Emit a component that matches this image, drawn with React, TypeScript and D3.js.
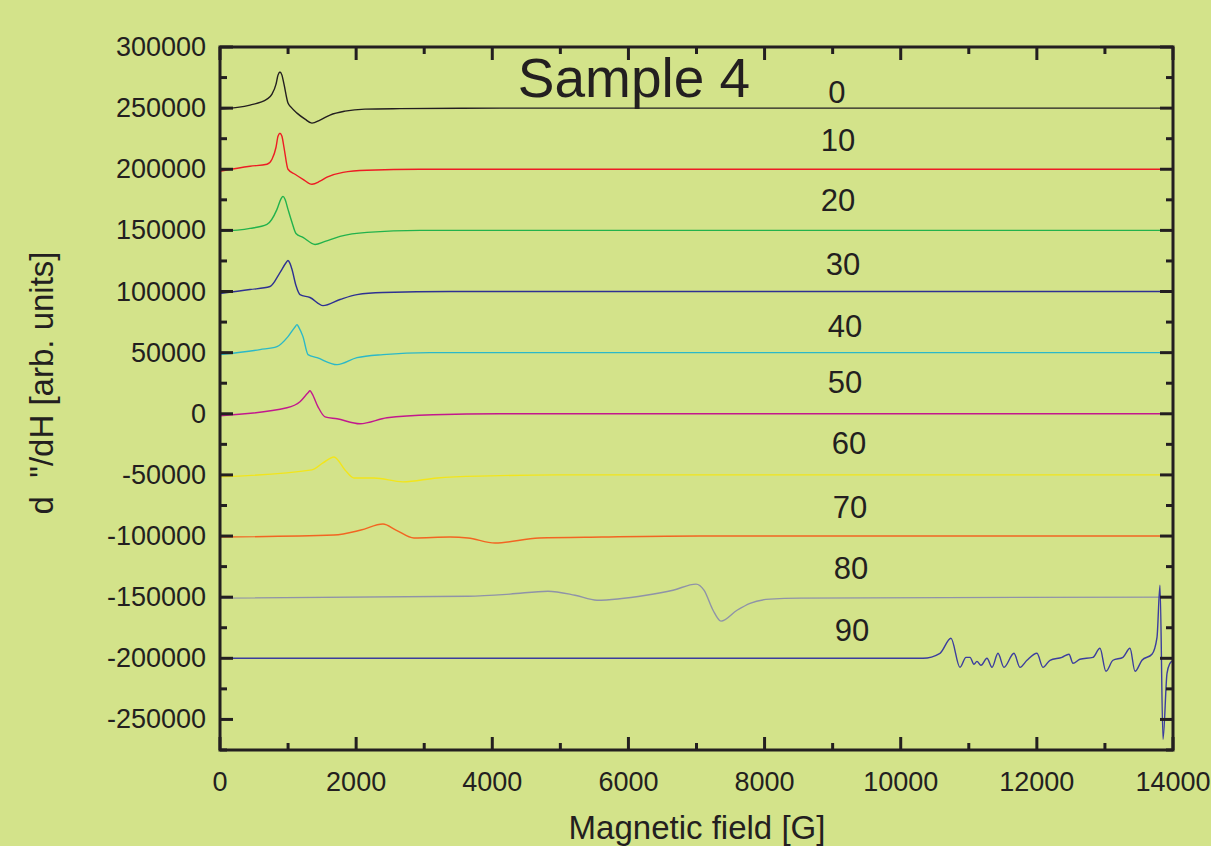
import React from "react";
import * as d3 from "d3";

type Pt = [number, number];

const series0: Pt[] = [[0,249200],[441,252500],[690,257400],[764,261500],[823,269600],[852,277000],[881,279500],[910,277000],[940,269600],[999,254100],[1043,250800],[1131,245900],[1249,241000],[1351,237700],[1469,240200],[1616,244300],[1836,247500],[2130,249200],[2644,249600],[4113,250000],[14000,250000]];
const series10: Pt[] = [[0,198400],[441,202500],[690,204100],[764,208200],[823,218000],[852,227000],[881,229500],[910,227000],[940,218000],[999,200000],[1102,195900],[1219,191800],[1351,187700],[1469,190200],[1572,193500],[1807,197500],[2159,199200],[2938,200000],[14000,200000]];
const series20: Pt[] = [[0,149200],[441,151600],[690,154900],[837,167200],[896,175800],[925,177800],[955,175500],[999,167200],[1058,156500],[1116,147500],[1219,144300],[1396,138500],[1543,141000],[1763,145100],[2159,148400],[2938,150000],[14000,150000]];
const series30: Pt[] = [[0,98400],[441,101600],[735,104100],[881,115500],[970,123500],[999,125400],[1028,123000],[1058,118000],[1116,104900],[1175,97500],[1322,95100],[1513,88500],[1763,93500],[2013,97500],[2394,99200],[3379,100000],[14000,100000]];
const series40: Pt[] = [[0,48400],[588,52500],[837,54900],[999,63100],[1102,71000],[1131,72900],[1160,70500],[1219,63100],[1293,48400],[1425,45900],[1719,40200],[2013,45900],[2394,48400],[3085,50000],[14000,50000]];
const series50: Pt[] = [[0,-1600],[984,4900],[1175,9800],[1293,17200],[1322,18800],[1352,16500],[1440,5700],[1543,-2500],[1719,-4100],[2057,-8200],[2453,-3300],[3129,-800],[4113,0],[14000,0]];
const series60: Pt[] = [[0,-51600],[1351,-45900],[1513,-40200],[1675,-35300],[1836,-45900],[1968,-52500],[2262,-52500],[2688,-55700],[3188,-52500],[3966,-50800],[4950,-50000],[14000,-50000]];
const series70: Pt[] = [[0,-100800],[1675,-99200],[2071,-95100],[2394,-90200],[2585,-95100],[2850,-101600],[3379,-100800],[3643,-101600],[4040,-105700],[4686,-101600],[5612,-100800],[7051,-100000],[14000,-100000]];
const series80: Pt[] = [[0,-150800],[3643,-149200],[4260,-147500],[4818,-145100],[5215,-148400],[5538,-152500],[6258,-148400],[6655,-144300],[6993,-139300],[7110,-144300],[7243,-160700],[7360,-169600],[7595,-160700],[7786,-155000],[8080,-151600],[8520,-150800],[14000,-150000]];
const series90: Pt[] = [[0,-200000],[10327,-200000],[10577,-195900],[10738,-183600],[10871,-207400],[10959,-199200],[11018,-199200],[11076,-204900],[11120,-202500],[11179,-205700],[11267,-200000],[11341,-207400],[11429,-195900],[11517,-207400],[11664,-195900],[11752,-207400],[11855,-201600],[12002,-195900],[12090,-207400],[12193,-201600],[12369,-199200],[12472,-196700],[12531,-204100],[12633,-200800],[12824,-199200],[12927,-191800],[13015,-210600],[13118,-201600],[13265,-199200],[13368,-191800],[13442,-210600],[13544,-201600],[13691,-196700],[13765,-182800],[13809,-140300],[13853,-266300],[13912,-212300],[13955,-204100],[14000,-201600]];

const seriesData: Pt[][] = [series0, series10, series20, series30, series40, series50, series60, series70, series80, series90];
const seriesNames = ["0", "10", "20", "30", "40", "50", "60", "70", "80", "90"];
const seriesColors = ["#231f20", "#ed1c24", "#22b24c", "#2e3192", "#2bb8c8", "#c2188e", "#f2e51b", "#f26522", "#8f93a8", "#3b3d9e"];
// label anchors in data units (field, value)
const labelField = [9064, 9078, 9078, 9152, 9181, 9181, 9240, 9255, 9270, 9284];
const labelValue = [262400, 223900, 174800, 122400, 71700, 25800, -24100, -76400, -126400, -177100];

const xTicks = [0, 2000, 4000, 6000, 8000, 10000, 12000, 14000];
const xMinorTicks = [1000, 3000, 5000, 7000, 9000, 11000, 13000];
const yTicks = [300000, 250000, 200000, 150000, 100000, 50000, 0, -50000, -100000, -150000, -200000, -250000];
const yMinorTicks = [275000, 225000, 175000, 125000, 75000, 25000, -25000, -75000, -125000, -175000, -225000, -275000];

const W = 1211, H = 846;
const L = 220, R = 1173, T = 47, B = 750;

export default function App() {
  const x = d3.scaleLinear().domain([0, 14000]).range([L, R]);
  const y = d3.scaleLinear().domain([-275000, 300000]).range([B, T]);
  const line = d3.line<Pt>().x(d => x(d[0])).y(d => y(d[1])).curve(d3.curveMonotoneX);
  const axisColor = "#231f20";
  const font = "'Liberation Sans', Arial, sans-serif";
  return (
    <svg width={W} height={H} style={{ position: "absolute", left: 0, top: 0 }} fontFamily={font}>
      <rect x={0} y={0} width={W} height={H} fill="#d3e38a" />
      <g>
        {seriesData.map((s, i) => (
          <path key={i} d={line(s) || ""} fill="none" stroke={seriesColors[i]} strokeWidth={1.4} />
        ))}
      </g>
      {/* ticks */}
      <g stroke={axisColor} strokeWidth={3}>
        {xTicks.map(t => (
          <g key={"xt" + t}>
            <line x1={x(t)} x2={x(t)} y1={B} y2={B - 13} />
            <line x1={x(t)} x2={x(t)} y1={T} y2={T + 13} />
          </g>
        ))}
        {xMinorTicks.map(t => (
          <g key={"xm" + t}>
            <line x1={x(t)} x2={x(t)} y1={B} y2={B - 7} />
            <line x1={x(t)} x2={x(t)} y1={T} y2={T + 7} />
          </g>
        ))}
        {yTicks.map(t => (
          <g key={"yt" + t}>
            <line x1={L} x2={L + 13} y1={y(t)} y2={y(t)} />
            <line x1={R} x2={R - 13} y1={y(t)} y2={y(t)} />
          </g>
        ))}
        {yMinorTicks.map(t => (
          <g key={"ym" + t}>
            <line x1={L} x2={L + 7} y1={y(t)} y2={y(t)} />
            <line x1={R} x2={R - 7} y1={y(t)} y2={y(t)} />
          </g>
        ))}
        <rect x={L} y={T} width={R - L} height={B - T} fill="none" />
      </g>
      {/* tick labels */}
      <g fill={axisColor} fontSize={27}>
        {yTicks.map(t => (
          <text key={"yl" + t} x={L - 14} y={y(t)} textAnchor="end" dominantBaseline="central">{t}</text>
        ))}
        {xTicks.map(t => (
          <text key={"xl" + t} x={x(t)} y={B + 32} textAnchor="middle" dominantBaseline="central">{t}</text>
        ))}
      </g>
      {/* series labels */}
      <g fill={axisColor} fontSize={31}>
        {seriesNames.map((n, i) => (
          <text key={"sl" + i} x={x(labelField[i])} y={y(labelValue[i])} textAnchor="middle" dominantBaseline="central">{n}</text>
        ))}
      </g>
      <text x={634} y={97} textAnchor="middle" fontSize={55} fill={axisColor}>Sample 4</text>
      <text x={697} y={839} textAnchor="middle" fontSize={33} fill={axisColor}>Magnetic field [G]</text>
      <text transform={`translate(53, 383) rotate(-90)`} textAnchor="middle" fontSize={33} fill={axisColor}>{"d \u00a0\"/dH [arb. units]"}</text>
    </svg>
  );
}
